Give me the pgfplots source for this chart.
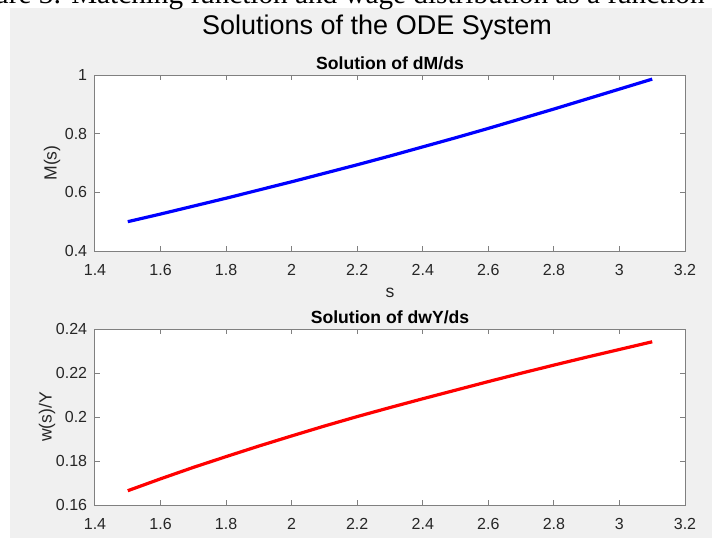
\documentclass[border=0pt]{standalone}
\usepackage{fontspec}
\setmainfont{Liberation Sans}
\newfontfamily\capfont{Liberation Serif}
\usepackage{pgfplots}
\pgfplotsset{compat=1.18}
\definecolor{figgray}{RGB}{240,240,240}
\definecolor{axgray}{RGB}{128,128,128}
\definecolor{txtgray}{RGB}{38,38,38}
\pgfplotsset{
  mystyle/.style={
    anchor=south west, scale only axis, width=295pt, height=88pt,
    xmin=1.4, xmax=3.2,
    xtick={1.4,1.6,1.8,2,2.2,2.4,2.6,2.8,3,3.2},
    tick align=inside, tick pos=both,
    major tick length=2.5pt,
    axis line style={axgray, line width=0.5pt},
    every tick/.style={axgray, line width=0.5pt},
    axis background/.style={fill=white},
    /pgf/number format/assume math mode=true,
    tick label style={font=\fontsize{8}{9.6}\selectfont, text=txtgray},
    xticklabel style={yshift=-3pt},
    yticklabel style={xshift=-0.4pt},
    label style={font=\fontsize{8.8}{10.5}\selectfont, text=txtgray},
    every axis title/.style={font=\fontsize{8.8}{10.5}\selectfont\bfseries, anchor=base, at={(axis description cs:0.5,1)}, yshift=2.7pt},
    scaled ticks=false,
  }
}
\begin{document}
\begin{tikzpicture}[x=1pt,y=1pt]
\useasboundingbox (0,0) rectangle (356,269);
\fill[white] (0,0) rectangle (356,269);
\fill[figgray] (5,0) rectangle (356,265);
\begin{scope}
\clip (0,0) rectangle (356,269);
\node[anchor=base east, inner sep=0pt, font=\capfont\fontsize{14.6}{17}\selectfont] at (352.5,267.2) {Figure 3: Matching function and wage distribution as a function};
\end{scope}
\node[anchor=base, inner sep=0pt, font=\fontsize{13.5}{16}\selectfont] at (188.5,252) {Solutions of the ODE System};

\begin{axis}[mystyle, at={(47.5pt,143.5pt)},
  ymin=0.4, ymax=1, ytick={0.4,0.6,0.8,1},
  title={Solution of dM/ds},
  xlabel={s}, ylabel={M(s)},
  xlabel style={at={(axis description cs:0.5,-0.2386)}, anchor=center},
  ylabel style={at={(axis description cs:-0.0729,0.5)}, anchor=center},
]
\addplot[blue, line width=1.6pt] coordinates {
(1.5,0.500) (1.6,0.526) (1.7,0.553) (1.8,0.580) (1.9,0.608) (2.0,0.636)
(2.1,0.665) (2.2,0.694) (2.3,0.724) (2.4,0.755) (2.5,0.786) (2.6,0.818)
(2.7,0.851) (2.8,0.884) (2.9,0.918) (3.0,0.952) (3.1,0.986)
};
\end{axis}

\begin{axis}[mystyle, at={(47.5pt,16.5pt)},
  ymin=0.16, ymax=0.24, ytick={0.16,0.18,0.2,0.22,0.24},
  yticklabel style={/pgf/number format/fixed, /pgf/number format/precision=2},
  title={Solution of dwY/ds},
  ylabel={w(s)/Y},
  ylabel style={at={(axis description cs:-0.0814,0.5)}, anchor=center},
]
\addplot[red, line width=1.6pt] coordinates {
(1.5,0.1665) (1.6,0.1719) (1.7,0.1771) (1.8,0.1820) (1.9,0.1868) (2.0,0.1914)
(2.1,0.1959) (2.2,0.2002) (2.3,0.2043) (2.4,0.2083) (2.5,0.2122) (2.6,0.2161)
(2.7,0.2199) (2.8,0.2236) (2.9,0.2272) (3.0,0.2307) (3.1,0.2342)
};
\end{axis}
\end{tikzpicture}
\end{document}
